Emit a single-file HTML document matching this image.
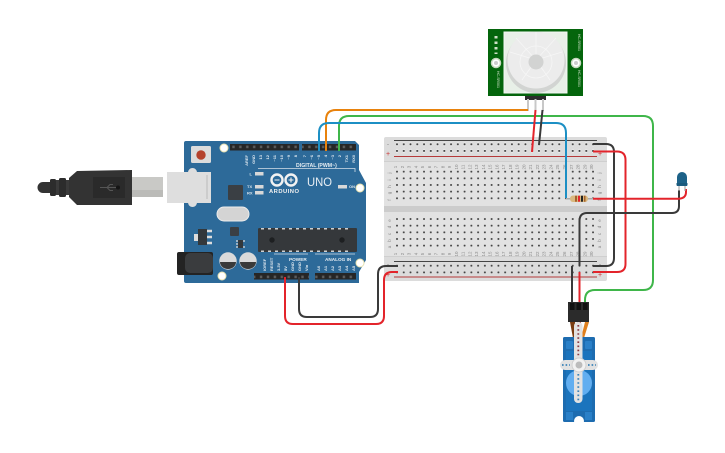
<!DOCTYPE html>
<html><head><meta charset="utf-8"><style>
html,body{margin:0;padding:0;background:#fff;width:725px;height:453px;overflow:hidden}
svg{display:block;filter:blur(.35px)}
text{font-family:"Liberation Sans",sans-serif}
.w{fill:none;stroke-width:2}
.r{stroke:#e3242b}.k{stroke:#3a3a3a}.g{stroke:#3fb64a}.b{stroke:#1c8fc4}.o{stroke:#e8820c}
.pl text{font-size:4px;fill:#dfe8ef;font-weight:bold}
.bl text{font-size:4.5px;fill:#8a8a8a;text-anchor:middle}
</style></head><body>
<svg width="725" height="453" viewBox="0 0 725 453" xmlns="http://www.w3.org/2000/svg">
<defs>
<pattern id="h" patternUnits="userSpaceOnUse" x="393.62" y="141" width="6.76" height="6.65"><rect x="2.4" y="1.3" width="2" height="4" fill="#ececec"/><circle cx="3.38" cy="3.3" r="1" fill="#3d3d3d"/></pattern>
<pattern id="h2" patternUnits="userSpaceOnUse" x="393.62" y="168.35" width="6.76" height="6.65"><circle cx="3.38" cy="3.33" r="1" fill="#3d3d3d"/></pattern>
<pattern id="h3" patternUnits="userSpaceOnUse" x="393.62" y="215.7" width="6.76" height="6.65"><circle cx="3.38" cy="3.33" r="1" fill="#3d3d3d"/></pattern>
<pattern id="h4" patternUnits="userSpaceOnUse" x="393.62" y="262.4" width="6.76" height="6.65"><circle cx="3.38" cy="3.33" r="1" fill="#3d3d3d"/></pattern>
<pattern id="p" patternUnits="userSpaceOnUse" x="230" y="144" width="6.9" height="6.5"><rect x="2.3" y="1.6" width="2.4" height="2.6" fill="#5c5c5c"/></pattern>
</defs>

<!-- USB cable -->
<path d="M52 182H43a5.500 5.500 0 0 0 0 11H52Z" fill="#333"/>
<rect x="50" y="179" width="6" height="17" rx="1.500" fill="#2c2c2c"/>
<rect x="56" y="180" width="3" height="15" fill="#3a3a3a"/>
<rect x="59" y="178" width="7" height="19" rx="1.500" fill="#2c2c2c"/>
<rect x="66" y="180" width="3" height="15" fill="#3a3a3a"/>
<path d="M69 178L77 171 132 170V205L77 205 69 197Z" fill="#333"/>
<rect x="93" y="177" width="32" height="21" fill="#2a2a2a"/>
<path d="M100 187.500h16M107 187.500l3-3h3M107 187.500l3 3h3" stroke="#555" stroke-width="1" fill="none"/>
<circle cx="118" cy="187.500" r="2" fill="#151515"/>
<path d="M132 177H163V197H132Z" fill="#c9c9c6"/>
<path d="M132 190H163V197H132Z" fill="#bbbbb8"/>

<!-- Arduino -->
<path d="M186 141H355L359 145V170L366 183V260L359 272V283H186Q184 283 184 281V143Q184 141 186 141Z" fill="#2d6a99"/>
<path d="M167 172H188Q189 168 192.500 168 196 168 197 172H211V203H197Q196 207 192.500 207 189 207 188 203H167Z" fill="#dedede"/>
<rect x="206.500" y="175" width="1" height="24" fill="#bbb"/>
<rect x="191" y="146" width="20" height="17" rx="1.500" fill="#dcdcdc"/>
<circle cx="201" cy="155" r="4.700" fill="#b5422c"/>
<rect x="230" y="144" width="69" height="6.500" fill="#262626"/><rect x="230" y="144" width="69" height="6.500" fill="url(#p)"/>
<rect x="302" y="144" width="54" height="6.500" fill="#262626"/><rect x="302" y="144" width="54" height="6.500" fill="url(#p)"/>
<rect x="254" y="273" width="55" height="6.500" fill="#262626"/><rect x="254" y="273" width="55" height="6.500" fill="url(#p)"/>
<rect x="315" y="273" width="41" height="6.500" fill="#262626"/><rect x="315" y="273" width="41" height="6.500" fill="url(#p)"/>
<circle cx="224" cy="148" r="4" fill="#fff" stroke="#e8e2b0"/>
<circle cx="360" cy="188" r="4" fill="#fff" stroke="#e8e2b0"/>
<circle cx="360" cy="263" r="4" fill="#fff" stroke="#e8e2b0"/>
<circle cx="222" cy="276" r="4" fill="#fff" stroke="#e8e2b0"/>
<g class="pl">
<text transform="translate(248 155)rotate(-90)" text-anchor="end">AREF</text>
<text transform="translate(255 155)rotate(-90)" text-anchor="end">GND</text>
<text transform="translate(262 155)rotate(-90)" text-anchor="end">13</text>
<text transform="translate(269 155)rotate(-90)" text-anchor="end">12</text>
<text transform="translate(276 155)rotate(-90)" text-anchor="end">~11</text>
<text transform="translate(283 155)rotate(-90)" text-anchor="end">~10</text>
<text transform="translate(290 155)rotate(-90)" text-anchor="end">~9</text>
<text transform="translate(297 155)rotate(-90)" text-anchor="end">8</text>
<text transform="translate(306 155)rotate(-90)" text-anchor="end">7</text>
<text transform="translate(313 155)rotate(-90)" text-anchor="end">~6</text>
<text transform="translate(320 155)rotate(-90)" text-anchor="end">~5</text>
<text transform="translate(327 155)rotate(-90)" text-anchor="end">4</text>
<text transform="translate(334 155)rotate(-90)" text-anchor="end">~3</text>
<text transform="translate(341 155)rotate(-90)" text-anchor="end">2</text>
<text transform="translate(348 155)rotate(-90)" text-anchor="end">TX1</text>
<text transform="translate(355 155)rotate(-90)" text-anchor="end">RX0</text>
<text transform="translate(266 271)rotate(-90)">IOREF</text>
<text transform="translate(273 271)rotate(-90)">RESET</text>
<text transform="translate(280 271)rotate(-90)">3.3V</text>
<text transform="translate(287 271)rotate(-90)">5V</text>
<text transform="translate(294 271)rotate(-90)">GND</text>
<text transform="translate(301 271)rotate(-90)">GND</text>
<text transform="translate(308 271)rotate(-90)">Vin</text>
<text transform="translate(320 271)rotate(-90)">A0</text>
<text transform="translate(327 271)rotate(-90)">A1</text>
<text transform="translate(334 271)rotate(-90)">A2</text>
<text transform="translate(341 271)rotate(-90)">A3</text>
<text transform="translate(348 271)rotate(-90)">A4</text>
<text transform="translate(355 271)rotate(-90)">A5</text>
<text x="249.500" y="175.500">L</text><text x="247" y="188">TX</text><text x="247" y="194.500">RX</text><text x="349" y="188">ON</text>
</g>
<text x="296" y="167" font-size="5.200" font-weight="bold" fill="#e4ecf2">DIGITAL (PWM~)</text>
<path d="M258 168.500H355V172" stroke="#d5e0e9" stroke-width=".8" fill="none"/>
<circle cx="277" cy="180" r="5.500" fill="none" stroke="#f2f2f2" stroke-width="2.400"/>
<circle cx="291" cy="180" r="5.500" fill="none" stroke="#f2f2f2" stroke-width="2.400"/>
<path d="M274.500 180h5M288.500 180h5M291 177.500v5" stroke="#f2f2f2" stroke-width="1.100"/>
<text x="269" y="193" font-size="5.800" font-weight="bold" fill="#f0f0f0" textLength="30">ARDUINO</text>
<text x="307" y="186" font-size="12" fill="#e8eef3" textLength="25" lengthAdjust="spacingAndGlyphs">UNO</text>
<rect x="255" y="172" width="8.500" height="3.500" fill="#d8d8d8"/><rect x="255" y="185" width="8.500" height="3.500" fill="#d8d8d8"/><rect x="255" y="191" width="8.500" height="3.500" fill="#d8d8d8"/><rect x="338" y="185" width="9" height="3.500" fill="#d8d8d8"/>
<rect x="228" y="185" width="15" height="15" rx="1" fill="#3a3f44"/>
<rect x="217" y="207" width="32" height="14" rx="7" fill="#d4d4d4" stroke="#ececec"/>
<rect x="230" y="227" width="9" height="9" rx="1" fill="#3a3f44"/>
<rect x="198" y="229" width="9" height="16" fill="#33383c"/><rect x="194" y="234" width="4" height="7" fill="#ddd"/>
<path d="M207 231h5M207 237h5M207 243h5" stroke="#ddd" stroke-width="2.500"/>
<rect x="238" y="240" width="5" height="8" fill="#33383c"/><path d="M236 241h2M236 244h2M236 247h2M243 241h2M243 247h2" stroke="#ddd" stroke-width="1.200"/>
<path d="M260 228H356Q357 228 357 229V251Q357 252 356 252H259Q258 252 258 251V229Q258 228 260 228Z" fill="#35383b"/>
<path d="M261 228h3v1.500h-3zM268 228h3v1.500h-3zM275 228h3v1.500h-3zM282 228h3v1.500h-3zM289 228h3v1.500h-3zM296 228h3v1.500h-3zM303 228h3v1.500h-3zM310 228h3v1.500h-3zM317 228h3v1.500h-3zM324 228h3v1.500h-3zM331 228h3v1.500h-3zM338 228h3v1.500h-3zM345 228h3v1.500h-3zM261 250.500h3v1.500h-3zM268 250.500h3v1.500h-3zM275 250.500h3v1.500h-3zM282 250.500h3v1.500h-3zM289 250.500h3v1.500h-3zM296 250.500h3v1.500h-3zM303 250.500h3v1.500h-3zM310 250.500h3v1.500h-3zM317 250.500h3v1.500h-3zM324 250.500h3v1.500h-3zM331 250.500h3v1.500h-3zM338 250.500h3v1.500h-3zM345 250.500h3v1.500h-3z" fill="#cfcfcf"/>
<circle cx="272" cy="240" r="2.700" fill="#1d1f21"/><circle cx="342" cy="240" r="2.700" fill="#1d1f21"/>
<path d="M274 254H308M315 254H355" stroke="#d5e0e9" stroke-width=".8"/>
<text x="289" y="261" font-size="4.700" font-weight="bold" fill="#e8eef3">POWER</text>
<text x="325" y="261" font-size="4.700" font-weight="bold" fill="#e8eef3">ANALOG IN</text>
<circle cx="228" cy="261" r="8.700" fill="#dadada"/><path d="M220 262H236A8 7 0 0 1 220 262Z" fill="#3a3a3a"/>
<circle cx="248" cy="261" r="8.700" fill="#dadada"/><path d="M240 262H256A8 7 0 0 1 240 262Z" fill="#3a3a3a"/>
<rect x="177" y="252" width="36" height="23" rx="2" fill="#232323"/><rect x="185" y="253" width="28" height="20" rx="5" fill="#3a3c3e"/>

<!-- Breadboard -->
<rect x="384" y="137" width="223" height="144" rx="2" fill="#dcdcdc"/>
<rect x="384" y="161" width="223" height="46" fill="#e2e2e2"/>
<rect x="384" y="206" width="223" height="6" fill="#cccccc"/>
<rect x="384" y="212" width="223" height="45" fill="#e2e2e2"/>
<path d="M384 161.500H607M384 256.500H607" stroke="#cfcfcf"/>
<path d="M394 140.500H597M394 261.500H597" stroke="#444" stroke-width=".9"/>
<path d="M394 156.500H597M394 277H597" stroke="#b53a3a" stroke-width=".9"/>
<rect x="393.620" y="141" width="203" height="13.300" fill="url(#h)"/>
<rect x="393.620" y="168.350" width="203" height="33.250" fill="url(#h2)"/>
<rect x="393.620" y="215.700" width="203" height="33.250" fill="url(#h3)"/>
<rect x="393.620" y="262.400" width="203" height="13.300" fill="url(#h4)"/>
<text x="388" y="146" font-size="6" fill="#777" text-anchor="middle">-</text>
<text x="388" y="156" font-size="7" fill="#c33" text-anchor="middle">+</text>
<text x="600" y="146" font-size="6" fill="#777" text-anchor="middle">-</text>
<text x="600" y="156" font-size="7" fill="#c33" text-anchor="middle">+</text>
<text x="388" y="266" font-size="6" fill="#777" text-anchor="middle">-</text>
<text x="388" y="277" font-size="7" fill="#c33" text-anchor="middle">+</text>
<text x="600" y="266" font-size="6" fill="#777" text-anchor="middle">-</text>
<text x="600" y="277" font-size="7" fill="#c33" text-anchor="middle">+</text>
<g class="bl">
<text transform="translate(397 167)rotate(-90)">1</text><text transform="translate(403.800 167)rotate(-90)">2</text><text transform="translate(410.500 167)rotate(-90)">3</text><text transform="translate(417.300 167)rotate(-90)">4</text><text transform="translate(424 167)rotate(-90)">5</text><text transform="translate(430.800 167)rotate(-90)">6</text><text transform="translate(437.600 167)rotate(-90)">7</text><text transform="translate(444.300 167)rotate(-90)">8</text><text transform="translate(451.100 167)rotate(-90)">9</text><text transform="translate(457.800 167)rotate(-90)">10</text><text transform="translate(464.600 167)rotate(-90)">11</text><text transform="translate(471.400 167)rotate(-90)">12</text><text transform="translate(478.100 167)rotate(-90)">13</text><text transform="translate(484.900 167)rotate(-90)">14</text><text transform="translate(491.600 167)rotate(-90)">15</text><text transform="translate(498.400 167)rotate(-90)">16</text><text transform="translate(505.200 167)rotate(-90)">17</text><text transform="translate(511.900 167)rotate(-90)">18</text><text transform="translate(518.700 167)rotate(-90)">19</text><text transform="translate(525.400 167)rotate(-90)">20</text><text transform="translate(532.200 167)rotate(-90)">21</text><text transform="translate(539 167)rotate(-90)">22</text><text transform="translate(545.700 167)rotate(-90)">23</text><text transform="translate(552.500 167)rotate(-90)">24</text><text transform="translate(559.200 167)rotate(-90)">25</text><text transform="translate(566 167)rotate(-90)">26</text><text transform="translate(572.800 167)rotate(-90)">27</text><text transform="translate(579.500 167)rotate(-90)">28</text><text transform="translate(586.300 167)rotate(-90)">29</text><text transform="translate(593 167)rotate(-90)">30</text>
<text transform="translate(397 254)rotate(-90)">1</text><text transform="translate(403.800 254)rotate(-90)">2</text><text transform="translate(410.500 254)rotate(-90)">3</text><text transform="translate(417.300 254)rotate(-90)">4</text><text transform="translate(424 254)rotate(-90)">5</text><text transform="translate(430.800 254)rotate(-90)">6</text><text transform="translate(437.600 254)rotate(-90)">7</text><text transform="translate(444.300 254)rotate(-90)">8</text><text transform="translate(451.100 254)rotate(-90)">9</text><text transform="translate(457.800 254)rotate(-90)">10</text><text transform="translate(464.600 254)rotate(-90)">11</text><text transform="translate(471.400 254)rotate(-90)">12</text><text transform="translate(478.100 254)rotate(-90)">13</text><text transform="translate(484.900 254)rotate(-90)">14</text><text transform="translate(491.600 254)rotate(-90)">15</text><text transform="translate(498.400 254)rotate(-90)">16</text><text transform="translate(505.200 254)rotate(-90)">17</text><text transform="translate(511.900 254)rotate(-90)">18</text><text transform="translate(518.700 254)rotate(-90)">19</text><text transform="translate(525.400 254)rotate(-90)">20</text><text transform="translate(532.200 254)rotate(-90)">21</text><text transform="translate(539 254)rotate(-90)">22</text><text transform="translate(545.700 254)rotate(-90)">23</text><text transform="translate(552.500 254)rotate(-90)">24</text><text transform="translate(559.200 254)rotate(-90)">25</text><text transform="translate(566 254)rotate(-90)">26</text><text transform="translate(572.800 254)rotate(-90)">27</text><text transform="translate(579.500 254)rotate(-90)">28</text><text transform="translate(586.300 254)rotate(-90)">29</text><text transform="translate(593 254)rotate(-90)">30</text>
<text transform="translate(391 173)rotate(-90)">j</text><text transform="translate(391 180)rotate(-90)">i</text><text transform="translate(391 186.500)rotate(-90)">h</text><text transform="translate(391 193)rotate(-90)">g</text><text transform="translate(391 200)rotate(-90)">f</text>
<text transform="translate(391 220.500)rotate(-90)">e</text><text transform="translate(391 227)rotate(-90)">d</text><text transform="translate(391 234)rotate(-90)">c</text><text transform="translate(391 240.500)rotate(-90)">b</text><text transform="translate(391 247)rotate(-90)">a</text>
<text transform="translate(601 173)rotate(-90)">j</text><text transform="translate(601 180)rotate(-90)">i</text><text transform="translate(601 186.500)rotate(-90)">h</text><text transform="translate(601 193)rotate(-90)">g</text><text transform="translate(601 200)rotate(-90)">f</text>
<text transform="translate(601 220.500)rotate(-90)">e</text><text transform="translate(601 227)rotate(-90)">d</text><text transform="translate(601 234)rotate(-90)">c</text><text transform="translate(601 240.500)rotate(-90)">b</text><text transform="translate(601 247)rotate(-90)">a</text>
</g>

<!-- PIR -->
<rect x="488" y="29" width="95" height="67" fill="#04650c"/>
<rect x="504" y="32" width="63" height="61" fill="#e8f0e8" stroke="#f3f8f3"/>
<circle cx="496" cy="63" r="4.500" fill="#fff" stroke="#c8d8c0" stroke-width="1.500"/><circle cx="496" cy="63" r="2" fill="#ccc"/>
<circle cx="576" cy="63" r="4.500" fill="#fff" stroke="#c8d8c0" stroke-width="1.500"/><circle cx="576" cy="63" r="2" fill="#ccc"/>
<path d="M496 36v18" stroke="#cfe0c8" stroke-width="3" stroke-dasharray="2.500 3"/>
<text transform="translate(497 71)rotate(90)" font-size="3.500" fill="#cfe0c8">HC-SR501</text>
<text transform="translate(578 34)rotate(90)" font-size="3.500" fill="#cfe0c8">HC-SR501</text>
<text transform="translate(578 70)rotate(90)" font-size="3.500" fill="#cfe0c8">HC-SR501</text>
<circle cx="536" cy="63" r="30" fill="#d2d4d2"/>
<circle cx="536" cy="60" r="28.500" fill="#ececec"/>
<path d="M536 60L536 32M536 60L516 38M536 60L510 52M536 60L556 38M536 60L562 52M536 60L522 80M536 60L550 80" stroke="#f6f6f6" stroke-width=".8"/>
<circle cx="536" cy="62" r="16" fill="none" stroke="#f6f6f6" stroke-width=".8"/>
<circle cx="536" cy="62" r="7.500" fill="#d2d3d2"/>
<rect x="525" y="96" width="21" height="4" fill="#2c2c2c"/>
<path d="M528 99V111M535.500 99V111M543 99V111" stroke="#c8c8c8" stroke-width="2"/>

<!-- Wires -->
<path class="w o" d="M326 151V120Q326 110 336 110H528"/>
<path class="w g" d="M339 151V126Q339 116 349 116H643Q653 116 653 126V280Q653 290 643 290H595Q585 290 585 300V305"/>
<path class="w b" d="M319 151V133Q319 123 329 123H556Q566 123 566 133V198"/>
<path class="w r" d="M535.500 110L532 152"/>
<path class="w k" d="M542.500 110L539 145"/>
<path class="w k" d="M593 144H606Q614 144 614 152V258Q614 266 606 266H593"/>
<path class="w r" d="M593 151.500H617Q625.500 151.500 625.500 160V264Q625.500 272 617 272H593"/>
<path class="w k" d="M299 277V309Q299 317 307 317H370Q378 317 378 309V274Q378 266 386 266H398"/>
<path class="w r" d="M285 277V316Q285 324 293 324H376Q384 324 384 316V280Q384 272 392 272H398"/>
<path class="w k" d="M679 190V206Q679 213 672 213H587Q579.500 213 579.500 221V266"/>
<path class="w k" d="M572 266V305"/>
<path class="w r" d="M579.500 272V305"/>
<path class="w r" d="M593 198.700H678Q686 198.700 686 192V189"/>

<!-- Resistor -->
<path d="M566 198.700H593" stroke="#aaa" stroke-width="1.500"/>
<rect x="570" y="195.500" width="18" height="6.500" rx="3" fill="#d9b87e"/>
<rect x="575" y="195.700" width="2" height="6" fill="#a5602a"/><rect x="578" y="195.700" width="2" height="6" fill="#e3242b"/><rect x="581" y="195.700" width="2" height="6" fill="#222"/><rect x="584" y="195.700" width="1.500" height="6" fill="#a5602a"/>

<!-- LED -->
<path d="M679 186V191M685 186V191" stroke="#aaa" stroke-width="1.200"/>
<path d="M677 186V177a5 5 0 0 1 10 0V186Z" fill="#1d6288"/>
<rect x="676.500" y="183" width="11" height="2.500" fill="#1a5a7d"/>

<!-- Servo -->
<path d="M570 322H575L578 338H573Z" fill="#7a3d12"/>
<path d="M577 322H581V336H577Z" fill="#c4261f"/>
<path d="M585 322H589L584 338 581 338Z" fill="#e0801e"/>
<rect x="568" y="302" width="21" height="20" fill="#2b2b2b"/>
<rect x="570" y="303" width="4.500" height="7" fill="#111"/><rect x="576.500" y="303" width="4.500" height="7" fill="#111"/><rect x="583" y="303" width="4.500" height="7" fill="#111"/>
<rect x="563" y="337" width="32" height="85" rx="1.500" fill="#1d6cb0"/>
<rect x="566" y="351" width="26" height="60" fill="#1b74bd"/>
<circle cx="579" cy="383" r="13" fill="#62aef0"/>
<rect x="566" y="341" width="7" height="8" rx="1" fill="#2a80c8"/><rect x="585" y="341" width="7" height="8" rx="1" fill="#2a80c8"/>
<rect x="566" y="412" width="7" height="8" fill="#2a80c8"/><rect x="585" y="412" width="7" height="8" fill="#2a80c8"/>
<circle cx="579" cy="421" r="5" fill="#fff"/>
<rect x="574" y="322" width="8.500" height="81" rx="4" fill="#e2e2e2"/>
<rect x="560" y="360" width="38" height="10" rx="5" fill="#e2e2e2"/>
<circle cx="579" cy="365" r="7" fill="#f2f2f2" stroke="#cfcfcf"/><circle cx="579" cy="365" r="3.500" fill="#bcbcbc"/>
<path d="M578.300 325V357" stroke="#8a3a42" stroke-width="1.800" stroke-dasharray="1.600 2.500"/>
<path d="M578.300 374V401" stroke="#3a82b8" stroke-width="1.800" stroke-dasharray="1.600 2.500"/>
<path d="M562 365H570M588 365H596" stroke="#3a82b8" stroke-width="1.800" stroke-dasharray="1.600 2"/>
</svg>
</body></html>
